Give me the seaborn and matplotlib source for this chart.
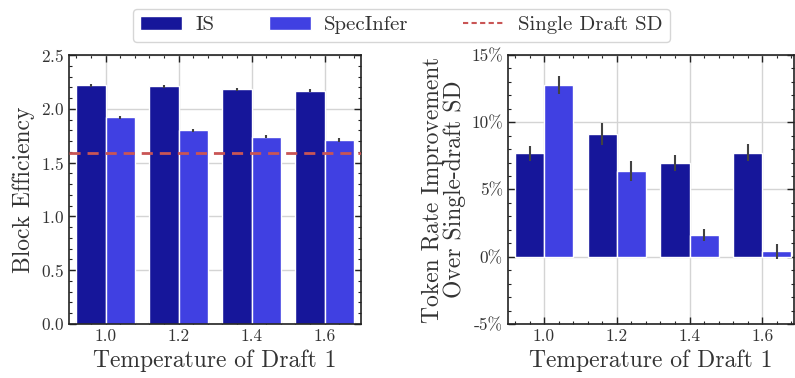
import numpy as np
import pandas as pd
import matplotlib
matplotlib.use("Agg")
import matplotlib.pyplot as plt
from matplotlib.ticker import AutoMinorLocator, FuncFormatter, MultipleLocator
from matplotlib.patches import Patch
from matplotlib.lines import Line2D
import seaborn as sns

# data
temperatures = ["1.0", "1.2", "1.4", "1.6"]
methods = ["IS", "SpecInfer"]

block_eff_is = [2.22, 2.21, 2.18, 2.17]
block_eff_specinfer = [1.92, 1.80, 1.74, 1.71]
block_eff_is_err = [0.015, 0.015, 0.015, 0.015]
block_eff_specinfer_err = [0.015, 0.015, 0.015, 0.015]
single_draft_block_eff = 1.585

token_rate_is = [7.7, 9.1, 7.0, 7.75]
token_rate_specinfer = [12.75, 6.4, 1.6, 0.4]
token_rate_is_err = [0.55, 0.82, 0.6, 0.6]
token_rate_specinfer_err = [0.68, 0.74, 0.43, 0.56]

colors = {"IS": "#16169a", "SpecInfer": "#4040e2"}
sd_color = "#c95555"

sns.set_style("whitegrid")
plt.rcParams["font.family"] = ["cmr10", "DejaVu Serif"]
plt.rcParams["axes.formatter.use_mathtext"] = True
plt.rcParams["axes.unicode_minus"] = False
plt.rcParams["mathtext.fontset"] = "cm"


def long_df(is_vals, si_vals, is_err, si_err):
    rows = []
    for t, v, e in zip(temperatures, is_vals, is_err):
        rows.append({"temp": t, "method": "IS", "value": v, "err": e})
    for t, v, e in zip(temperatures, si_vals, si_err):
        rows.append({"temp": t, "method": "SpecInfer", "value": v, "err": e})
    return pd.DataFrame(rows)


def draw_bars(ax, df):
    sns.barplot(data=df, x="temp", y="value", hue="method", hue_order=methods,
                order=temperatures, palette=colors, errorbar=None, width=0.8,
                saturation=1, edgecolor="white", linewidth=1.0, legend=False,
                ax=ax, zorder=2)
    # error bars on top of each bar
    for container, m in zip(ax.containers, methods):
        sub = df[df["method"] == m].set_index("temp").loc[temperatures]
        xs = [p.get_x() + p.get_width() / 2 for p in container.patches]
        ax.errorbar(xs, sub["value"], yerr=sub["err"], fmt="none",
                    ecolor="#424242", elinewidth=1.5, capsize=0, zorder=3)


def style_axes(ax):
    ax.grid(True, color="#d4d4d4", linewidth=1.0, zorder=0)
    ax.set_axisbelow(True)
    for s in ax.spines.values():
        s.set_color("#222222")
        s.set_linewidth(1.2)
    ax.xaxis.set_minor_locator(AutoMinorLocator(5))
    ax.yaxis.set_minor_locator(AutoMinorLocator(5))
    ax.tick_params(which="both", direction="in", top=True, right=True,
                   bottom=True, left=True, colors="#222222", labelcolor="#333333")
    ax.tick_params(which="major", length=5, width=1.0, labelsize=12.5)
    ax.tick_params(which="minor", length=2.5, width=0.8)
    ax.set_xlabel("Temperature of Draft 1", fontsize=17, color="#333333")


fig = plt.figure(figsize=(7.95, 3.78), dpi=100)
ax1 = fig.add_axes([0.0868, 0.1429, 0.3673, 0.7116])
ax2 = fig.add_axes([0.6386, 0.1429, 0.3605, 0.7116])

# left: block efficiency
df1 = long_df(block_eff_is, block_eff_specinfer, block_eff_is_err, block_eff_specinfer_err)
draw_bars(ax1, df1)
ax1.axhline(single_draft_block_eff, color=sd_color, linestyle=(0, (4, 2.5)),
            linewidth=2, zorder=4)
ax1.set_ylim(0, 2.5)
ax1.set_xlim(-0.5, 3.5)
ax1.yaxis.set_major_locator(MultipleLocator(0.5))
style_axes(ax1)
ax1.set_ylabel("Block Efficiency", fontsize=17, color="#333333")

# right: token rate improvement
df2 = long_df(token_rate_is, token_rate_specinfer, token_rate_is_err, token_rate_specinfer_err)
draw_bars(ax2, df2)
ax2.set_ylim(-5, 15)
ax2.set_xlim(-0.5, 3.44)
ax2.yaxis.set_major_locator(MultipleLocator(5))
ax2.yaxis.set_major_formatter(FuncFormatter(lambda v, p: f"{v:.0f}%"))
style_axes(ax2)
ax2.set_ylabel("Token Rate Improvement\nOver Single-draft SD", fontsize=17,
               color="#333333", linespacing=0.95)

handles = [Patch(facecolor=colors["IS"], edgecolor="white"),
           Patch(facecolor=colors["SpecInfer"], edgecolor="white"),
           Line2D([0], [0], color=sd_color, linestyle=(0, (2.5, 1.6)), linewidth=1.5)]
fig.legend(handles, ["IS", "SpecInfer", "Single Draft SD"], loc="upper center",
           bbox_to_anchor=(0.505, 1.005), ncol=3, fontsize=15, frameon=True,
           handlelength=2.0, handletextpad=0.65, columnspacing=2.6, borderpad=0.35,
           edgecolor="#cccccc", fancybox=True, labelcolor="#333333")

fig.savefig("out.png", dpi=100)
